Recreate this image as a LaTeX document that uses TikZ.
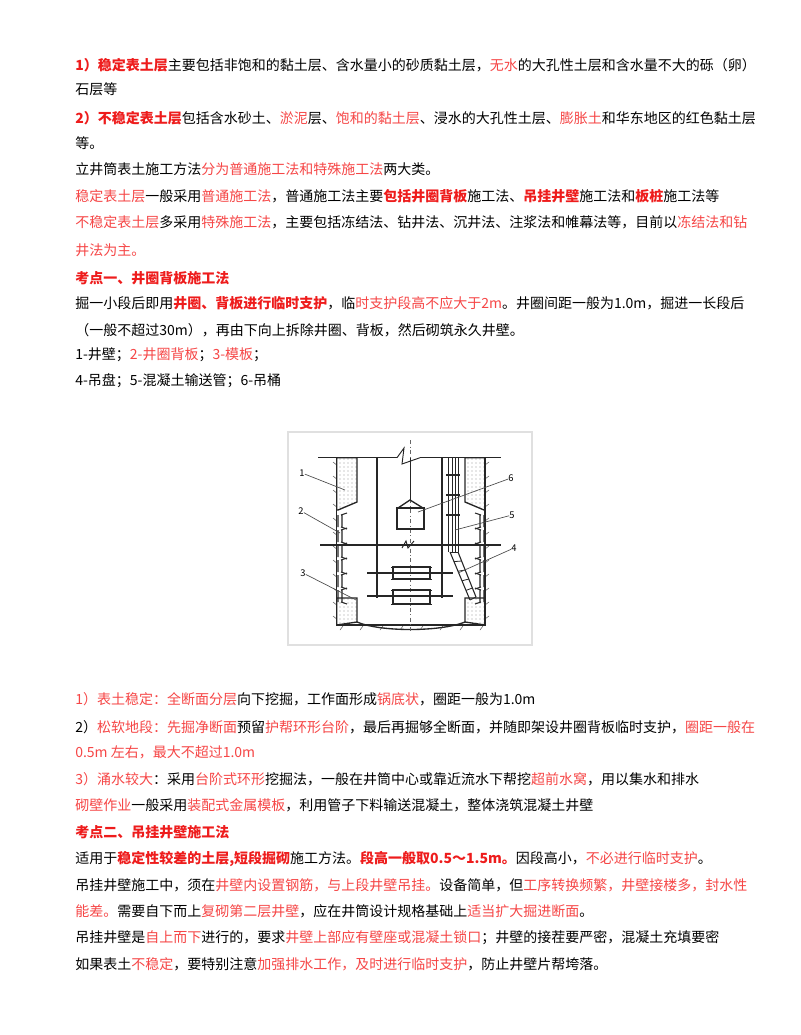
\documentclass[tikz,border=0pt]{standalone}
\usepackage{fontspec}
\setmainfont{Noto Sans CJK SC}
\usetikzlibrary{patterns,calc}
\definecolor{rb}{RGB}{238,28,28}
\definecolor{rl}{RGB}{246,70,70}
\newcommand{\Rb}[1]{{\color{rb}\bfseries #1}}
\newcommand{\Rl}[1]{{\color{rl}#1}}
\begin{document}
\begin{tikzpicture}[x=0.75pt,y=-0.75pt,
  tl/.style={anchor=west,inner sep=0pt,font=\fontsize{10.5pt}{12pt}\selectfont},
  fig/.style={line width=1pt,black!85},
  lead/.style={line width=0.5pt,black!70},
  lab/.style={font=\fontsize{7pt}{8pt}\selectfont,inner sep=0pt}]
\useasboundingbox[fill=white] (0,0) rectangle (800,1035);
\node[tl] (l1) at (75,65) {\Rb{1）稳定表土层}主要包括非饱和的黏土层、含水量小的砂质黏土层，\Rl{无水}的大孔性土层和含水量不大的砾（卵）};
\node[tl] (l2) at (75,89) {石层等};
\node[tl] (l3) at (75,118) {\Rb{2）不稳定表土层}包括含水砂土、\Rl{淤泥}层、\Rl{饱和的黏土层}、浸水的大孔性土层、\Rl{膨胀土}和华东地区的红色黏土层};
\node[tl] (l4) at (75,143) {等。};
\node[tl] (l5) at (75,169) {立井筒表土施工方法\Rl{分为普通施工法和特殊施工法}两大类。};
\node[tl] (l6) at (75,196) {\Rl{稳定表土层}一般采用\Rl{普通施工法}，普通施工法主要\Rb{包括井圈背板}施工法、\Rb{吊挂井壁}施工法和\Rb{板桩}施工法等};
\node[tl] (l7) at (75,222) {\Rl{不稳定表土层}多采用\Rl{特殊施工法}，主要包括冻结法、钻井法、沉井法、注浆法和帷幕法等，目前以\Rl{冻结法和钻}};
\node[tl] (l8) at (75,250) {\Rl{井法为主。}};
\node[tl] (l9) at (75,278) {\Rb{考点一、井圈背板施工法}};
\node[tl] (l10) at (75,303) {掘一小段后即用\Rb{井圈、背板进行临时支护}，临\Rl{时支护段高不应大于2m}。井圈间距一般为1.0m，掘进一长段后};
\node[tl] (l11) at (75,330) {（一般不超过30m），再由下向上拆除井圈、背板，然后砌筑永久井壁。};
\node[tl] (l12) at (75,355) {1-井壁；\Rl{2-井圈背板}；\Rl{3-模板}；};
\node[tl] (l13) at (75,381) {4-吊盘；5-混凝土输送管；6-吊桶};
% figure
\draw[black!12,line width=1.2pt] (288,432) rectangle (532,645);
% earth hatching
\foreach \y in {462,476,...,620} {
  \draw[black!60,line width=0.4pt] (333,\y) -- (336.7,\y+3);
  \draw[black!60,line width=0.4pt] (489,\y) -- (485,\y+3);
}
\foreach \x in {340,360,...,480} \draw[black!60,line width=0.4pt] (\x,630) -- (\x+3,626);
% concrete wall 1
\draw[fig,pattern=dots,pattern color=black!40] (336.7,457.7) -- (357,457.7) -- (357,502) -- (338,510) -- (336.7,510) -- cycle;
\draw[fig,pattern=dots,pattern color=black!40] (485,457.7) -- (465,457.7) -- (465,502) -- (484,510) -- (485,510) -- cycle;
% bottom concrete 3
\draw[fig,pattern=dots,pattern color=black!40] (336.7,598) -- (357,598) -- (357,622) -- (336.7,625) -- cycle;
\draw[fig,pattern=dots,pattern color=black!40] (485,598) -- (465,598) -- (465,622) -- (485,625) -- cycle;
% shaft walls
\draw[fig] (336.7,457.7) -- (336.7,625) -- (485,625) -- (485,457.7);
\draw[fig] (318,457.7) -- (397,457.7) (420,457.7) -- (501,457.7);
\draw[fig,line width=0.7pt] (397,457.7) -- (404,448) -- (402,464) -- (420,457.7);
% bottom arc
\draw[fig] (357,622) .. controls (380,632) and (440,632) .. (465,622);
% backboard ribs
\foreach \y in {515,530,545,560,575,590} {
  \draw[fig,line width=0.8pt] (338,\y) -- (338,\y+12) (341,\y) -- (347,\y-2) (341,\y+12) -- (347,\y+14) (342,\y) -- (342,\y+12);
  \draw[fig,line width=0.8pt] (484,\y) -- (484,\y+12) (481,\y) -- (475,\y-2) (481,\y+12) -- (475,\y+14) (480,\y) -- (480,\y+12);
}
% center line
\draw[black!60,line width=0.4pt,dash dot] (410,440) -- (410,632);
% beam
\draw[fig] (320,545) -- (501,545);
\draw[fig,line width=0.7pt] (402,548) -- (406,541) -- (408,548) -- (414,541);
% rods
\draw[fig] (377,457.7) -- (377,598) (442,457.7) -- (442,598);
% bucket
\draw[fig,line width=0.7pt] (410,457.7) -- (410,500);
\draw[fig] (398,508) -- (410,500) -- (423,508) -- cycle;
\draw[fig] (397,508) rectangle (424,529);
% platforms
\draw[fig] (367,573) -- (453,573) (367,596) -- (453,596);
\draw[fig] (393,567) rectangle (430,579);
\draw[fig] (393,590) rectangle (430,604);
\draw[fig,line width=0.7pt] (391,567) -- (432,567) (391,579) -- (432,579) (391,590) -- (432,590) (391,604) -- (432,604);
% pipe 5
\draw[fig,line width=0.6pt] (448,457.7) -- (448,552) (452,457.7) -- (452,552) (455,457.7) -- (455,552) (458,457.7) -- (458,552);
\foreach \y in {475,495,515} \draw[fig,line width=0.8pt] (446,\y) -- (460,\y);
\draw[fig,line width=0.8pt] (450,552) -- (470,600) (458,552) -- (476,597);
\foreach \t in {0,0.2,0.4,0.6,0.8,1} \draw[fig,line width=0.6pt] ($(450,552)!\t!(470,600)$) -- ($(458,552)!\t!(476,597)$);
% labels
\node[lab] (n1) at (302,473) {1};
\node[lab] (n2) at (301,511) {2};
\node[lab] (n3) at (303,573) {3};
\node[lab] (n4) at (514,548) {4};
\node[lab] (n5) at (512,515) {5};
\node[lab] (n6) at (511,478) {6};
\coordinate (t1) at (345,490);
\coordinate (t2) at (340,533);
\coordinate (t3) at (356,600);
\coordinate (t4) at (458,573);
\coordinate (t5) at (455,530);
\coordinate (t6) at (418,512);
\draw[lead] (n1) -- (t1);
\draw[lead] (n2) -- (t2);
\draw[lead] (n3) -- (t3);
\draw[lead] (n4) -- (t4);
\draw[lead] (n5) -- (t5);
\draw[lead] (n6) -- (t6);
% lower text
\node[tl] (m1) at (75,699) {\Rl{1）表土稳定：全断面分层}向下挖掘，工作面形成\Rl{锅底状}，圈距一般为1.0m};
\node[tl] (m2) at (75,727) {2）\Rl{松软地段：先掘净断面}预留\Rl{护帮环形台阶}，最后再掘够全断面，并随即架设井圈背板临时支护，\Rl{圈距一般在}};
\node[tl] (m3) at (75,752) {\Rl{0.5m 左右，最大不超过1.0m}};
\node[tl] (m4) at (75,779) {\Rl{3）涌水较大}：采用\Rl{台阶式环形}挖掘法，一般在井筒中心或靠近流水下帮挖\Rl{超前水窝}，用以集水和排水};
\node[tl] (m5) at (75,805) {\Rl{砌壁作业}一般采用\Rl{装配式金属模板}，利用管子下料输送混凝土，整体浇筑混凝土井壁};
\node[tl] (m6) at (75,832) {\Rb{考点二、吊挂井壁施工法}};
\node[tl] (m7) at (75,859) {适用于\Rb{稳定性较差的土层,短段掘砌}施工方法。\Rb{段高一般取0.5～1.5m。}因段高小，\Rl{不必进行临时支护}。};
\node[tl] (m8) at (75,885) {吊挂井壁施工中，须在\Rl{井壁内设置钢筋，与上段井壁吊挂。}设备简单，但\Rl{工序转换频繁，井壁接楼多，封水性}};
\node[tl] (m9) at (75,911) {\Rl{能差。}需要自下而上\Rl{复砌第二层井壁}，应在井筒设计规格基础上\Rl{适当扩大掘进断面}。};
\node[tl] (m10) at (75,938) {吊挂井壁是\Rl{自上而下}进行的，要求\Rl{井壁上部应有壁座或混凝土锁口}；井壁的接茬要严密，混凝土充填要密};
\node[tl] (m11) at (75,964) {如果表土\Rl{不稳定}，要特别注意\Rl{加强排水工作，及时进行临时支护}，防止井壁片帮垮落。};
\end{tikzpicture}
\end{document}
